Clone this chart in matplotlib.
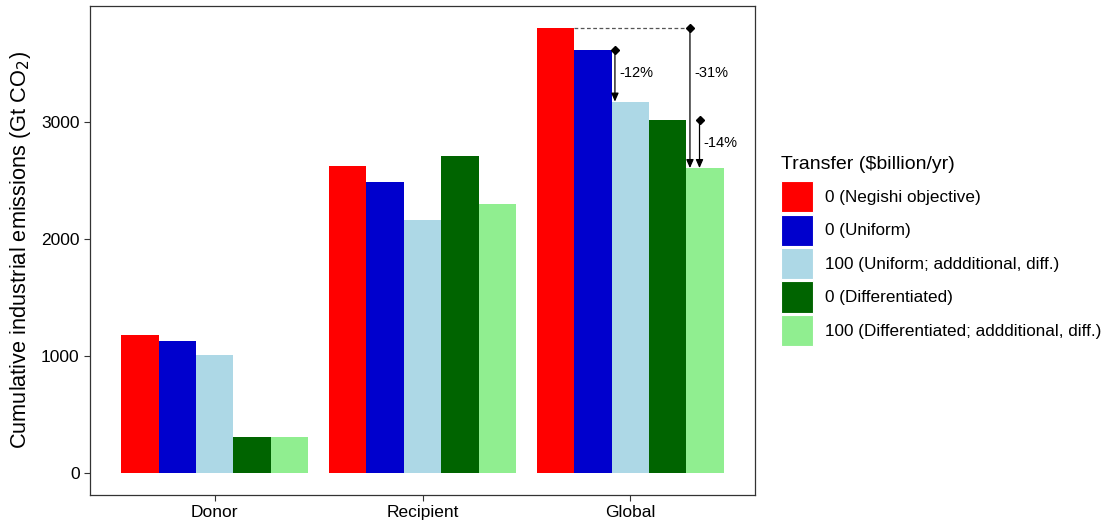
import numpy as np
import matplotlib
matplotlib.use('Agg')
import matplotlib.pyplot as plt
from matplotlib.patches import Patch

plt.rcParams['font.family'] = ['Liberation Sans', 'DejaVu Sans']

# данные с картинки
regions = ['Donor', 'Recipient', 'Global']
scenarios = ['0 (Negishi objective)', '0 (Uniform)',
             '100 (Uniform; addditional, diff.)', '0 (Differentiated)',
             '100 (Differentiated; addditional, diff.)']
colors = ['#FF0000', '#0000CD', '#ADD8E6', '#006400', '#90EE90']

negishi = [1180, 2623, 3807]
uniform = [1127, 2487, 3618]
uniform_100 = [1010, 2164, 3178]
diff = [308, 2711, 3023]
diff_100 = [308, 2300, 2609]
values = [negishi, uniform, uniform_100, diff, diff_100]

fig = plt.figure(figsize=(11.05, 5.23), dpi=100)
ax = fig.add_axes([90 / 1105, 1 - 495 / 523, 665 / 1105, 489 / 523])

x = np.arange(1, len(regions) + 1)
w = 0.18
for i, (vals, c) in enumerate(zip(values, colors)):
    ax.bar(x + (i - 2) * w, vals, width=w, color=c, linewidth=0)

# стрелки с процентами для Global
g = 2
def drop_arrow(xa, y_from, y_to):
    ax.annotate('', xy=(xa, y_to), xytext=(xa, y_from),
                arrowprops=dict(arrowstyle='-|>,head_length=0.5,head_width=0.22',
                                color='black', lw=0.9, shrinkA=0, shrinkB=0))
    ax.plot([xa], [y_from], marker='D', color='black', markersize=4)

x_red_right = x[g] - 2 * w + w / 2
ax.plot([x_red_right, 3.287], [negishi[g], negishi[g]], color='#555555',
        lw=0.9, ls=(0, (3, 2)))
drop_arrow(2.926, uniform[g], uniform_100[g])
drop_arrow(3.287, negishi[g], diff_100[g])
drop_arrow(3.333, diff[g], diff_100[g])

def pct(a, b):
    return f'{round((b / a - 1) * 100):d}%'

ax.text(2.945, 3420, pct(uniform[g], uniform_100[g]), fontsize=10.5, va='center', ha='left')
ax.text(3.307, 3420, pct(negishi[g], diff_100[g]), fontsize=10.5, va='center', ha='left')
ax.text(3.352, 2825, pct(diff[g], diff_100[g]), fontsize=10.5, va='center', ha='left')

ax.set_xlim(0.4, 3.6)
ax.set_ylim(-190, 3997)
ax.set_xticks(x)
ax.set_xticklabels(regions)
ax.set_yticks([0, 1000, 2000, 3000])
ax.tick_params(axis='both', labelsize=12.5, colors='#333333', labelcolor='black',
               length=4, width=0.8)
for s in ax.spines.values():
    s.set_color('#333333')
    s.set_linewidth(0.9)
ax.set_ylabel('Cumulative industrial emissions (Gt CO$_2$)', fontsize=15.7, labelpad=6)

handles = [Patch(facecolor=c, edgecolor='white', linewidth=0.8) for c in colors]
leg = fig.legend(handles, scenarios, loc='center left',
                 bbox_to_anchor=(781 / 1105, 1 - 251 / 523), frameon=False,
                 fontsize=12.3, title='Transfer ($billion/yr)', title_fontsize=14,
                 handlelength=1.85, handleheight=2.45, labelspacing=0.12,
                 handletextpad=0.7, borderpad=0, borderaxespad=0, alignment='left')
leg._legend_box.sep = 6

fig.savefig('out.png', dpi=100)
